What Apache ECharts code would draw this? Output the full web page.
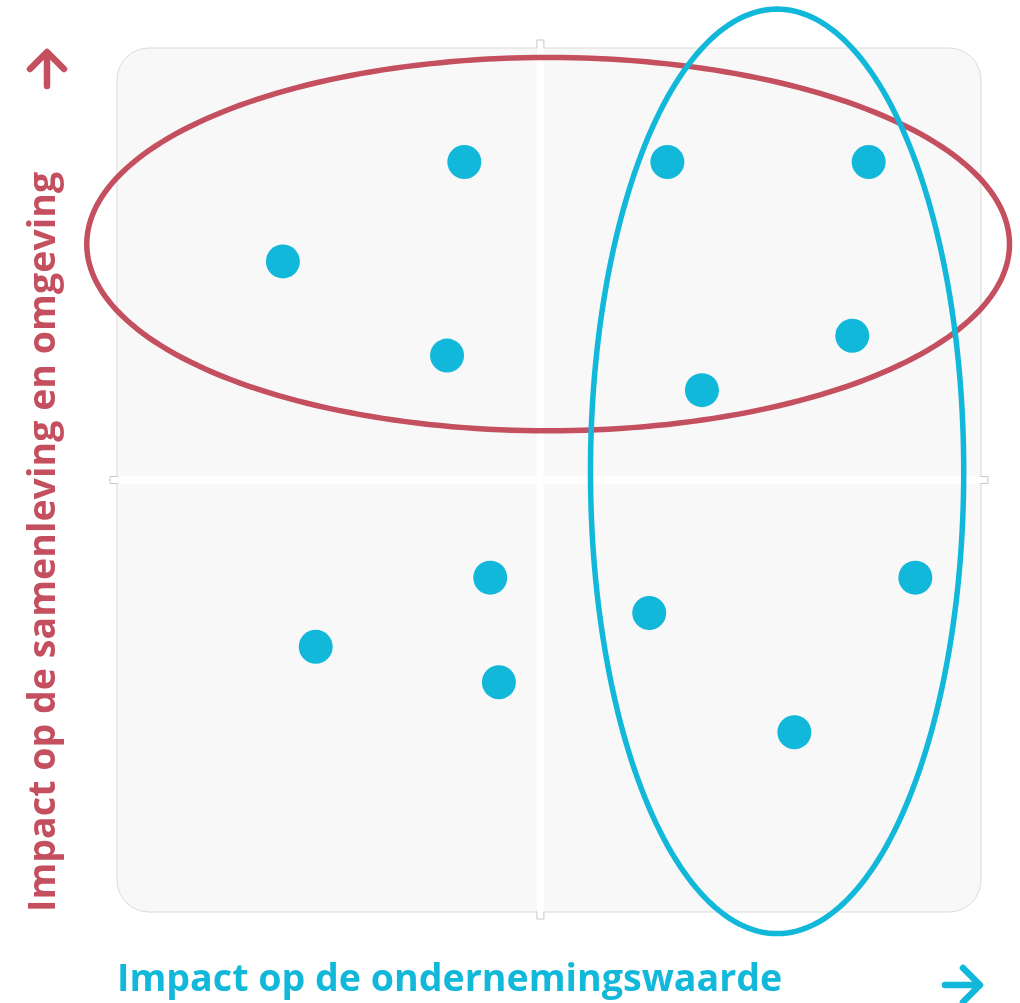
<!DOCTYPE html>
<html>
<head>
<meta charset="utf-8">
<script src="https://cdn.jsdelivr.net/npm/echarts@6/dist/echarts.min.js"></script>
<style>
  html, body { margin: 0; padding: 0; background: #fff; }
  #chart { width: 1020px; height: 1003px; }
</style>
</head>
<body>
<div id="chart"></div>
<script>
  // topics: [ondernemingswaarde, samenleving]
  var points = [
    [40.2, 86.8], [63.7, 86.8], [87.0, 86.8],
    [19.2, 75.3], [85.1, 66.7], [38.2, 64.4],
    [67.7, 60.4], [43.2, 38.7], [92.4, 38.7],
    [61.6, 34.6], [23.0, 30.7], [44.2, 26.6],
    [78.4, 20.8]
  ];
  // kwadrant-scheiding
  var splitX = 49;
  var splitY = 50;
  // ellipsen: [cx, cy, rx, ry]
  var redEllipse = [49.9, 77.3, 53.4, 21.6];
  var blueEllipse = [76.4, 51.0, 21.6, 53.5];

  var xTitle = 'Impact op de ondernemingswaarde';
  var yTitle = 'Impact op de samenleving en omgeving';

  var red = '#C4505F';
  var blue = '#12B8DA';
  var font = '"Open Sans", sans-serif';

  var chart = echarts.init(document.getElementById('chart'));

  function ellipseItem(color) {
    return function (params, api) {
      var c = api.coord([api.value(0), api.value(1)]);
      var s = api.size([api.value(2), api.value(3)]);
      var pts = [];
      for (var i = 0; i < 240; i++) {
        var a = i / 240 * Math.PI * 2;
        pts.push([c[0] + s[0] * Math.cos(a), c[1] + s[1] * Math.sin(a)]);
      }
      return {
        type: 'polygon',
        shape: { points: pts },
        style: { fill: 'none', stroke: color, lineWidth: 5.5 }
      };
    };
  }

  chart.setOption({
    animation: false,
    grid: { left: 117, top: 48, width: 864, height: 864 },
    xAxis: { type: 'value', min: 0, max: 100, show: false },
    yAxis: { type: 'value', min: 0, max: 100, show: false },
    graphic: [
      {
        type: 'rect', z: -10,
        shape: { x: 117, y: 48, width: 864, height: 864, r: 32 },
        style: { fill: '#f8f8f8', stroke: '#dadada', lineWidth: 1 }
      },
      {
        type: 'text', left: 117, top: 961,
        style: { text: xTitle, fill: blue, font: 'bold 37.6px ' + font }
      },
      {
        type: 'text', x: 25, y: 912, rotation: Math.PI / 2,
        style: { text: yTitle, fill: red, font: 'bold 37.6px ' + font, align: 'left', verticalAlign: 'top' }
      },
      {
        type: 'polyline',
        shape: { points: [[30, 69], [47, 52], [64, 69]] },
        style: { stroke: red, lineWidth: 6.5, lineCap: 'round', lineJoin: 'round', fill: 'none' }
      },
      {
        type: 'line',
        shape: { x1: 47, y1: 54, x2: 47, y2: 86 },
        style: { stroke: red, lineWidth: 6.5, lineCap: 'round' }
      },
      {
        type: 'polyline',
        shape: { points: [[963, 968], [980, 985], [963, 1002]] },
        style: { stroke: blue, lineWidth: 6.5, lineCap: 'round', lineJoin: 'round', fill: 'none' }
      },
      {
        type: 'line',
        shape: { x1: 945, y1: 985, x2: 978, y2: 985 },
        style: { stroke: blue, lineWidth: 6.5, lineCap: 'round' }
      }
    ],
    series: [
      {
        type: 'custom',
        z: 1,
        data: [[splitX, splitY]],
        renderItem: function (params, api) {
          var p = api.coord([api.value(0), api.value(1)]);
          var cs = params.coordSys;
          var stub = { fill: '#fff', stroke: '#c8c8c8', lineWidth: 1 };
          return {
            type: 'group',
            children: [
              { type: 'rect', shape: { x: p[0] - 3.5, y: cs.y - 8, width: 7, height: 9 }, style: stub },
              { type: 'rect', shape: { x: p[0] - 3.5, y: cs.y + cs.height - 1, width: 7, height: 8 }, style: stub },
              { type: 'rect', shape: { x: cs.x - 7, y: p[1] - 3.5, width: 8, height: 7 }, style: stub },
              { type: 'rect', shape: { x: cs.x + cs.width - 1, y: p[1] - 3.5, width: 8, height: 7 }, style: stub },
              { type: 'rect', shape: { x: p[0] - 3.5, y: cs.y, width: 7, height: cs.height }, style: { fill: '#fff' } },
              { type: 'rect', shape: { x: cs.x, y: p[1] - 3.5, width: cs.width, height: 7 }, style: { fill: '#fff' } }
            ]
          };
        }
      },
      {
        type: 'scatter',
        z: 3,
        symbolSize: 34,
        itemStyle: { color: blue, opacity: 1 },
        data: points
      },
      {
        type: 'custom',
        z: 4,
        data: [redEllipse],
        renderItem: ellipseItem(red)
      },
      {
        type: 'custom',
        z: 5,
        data: [blueEllipse],
        renderItem: ellipseItem(blue)
      }
    ]
  });
</script>
</body>
</html>
